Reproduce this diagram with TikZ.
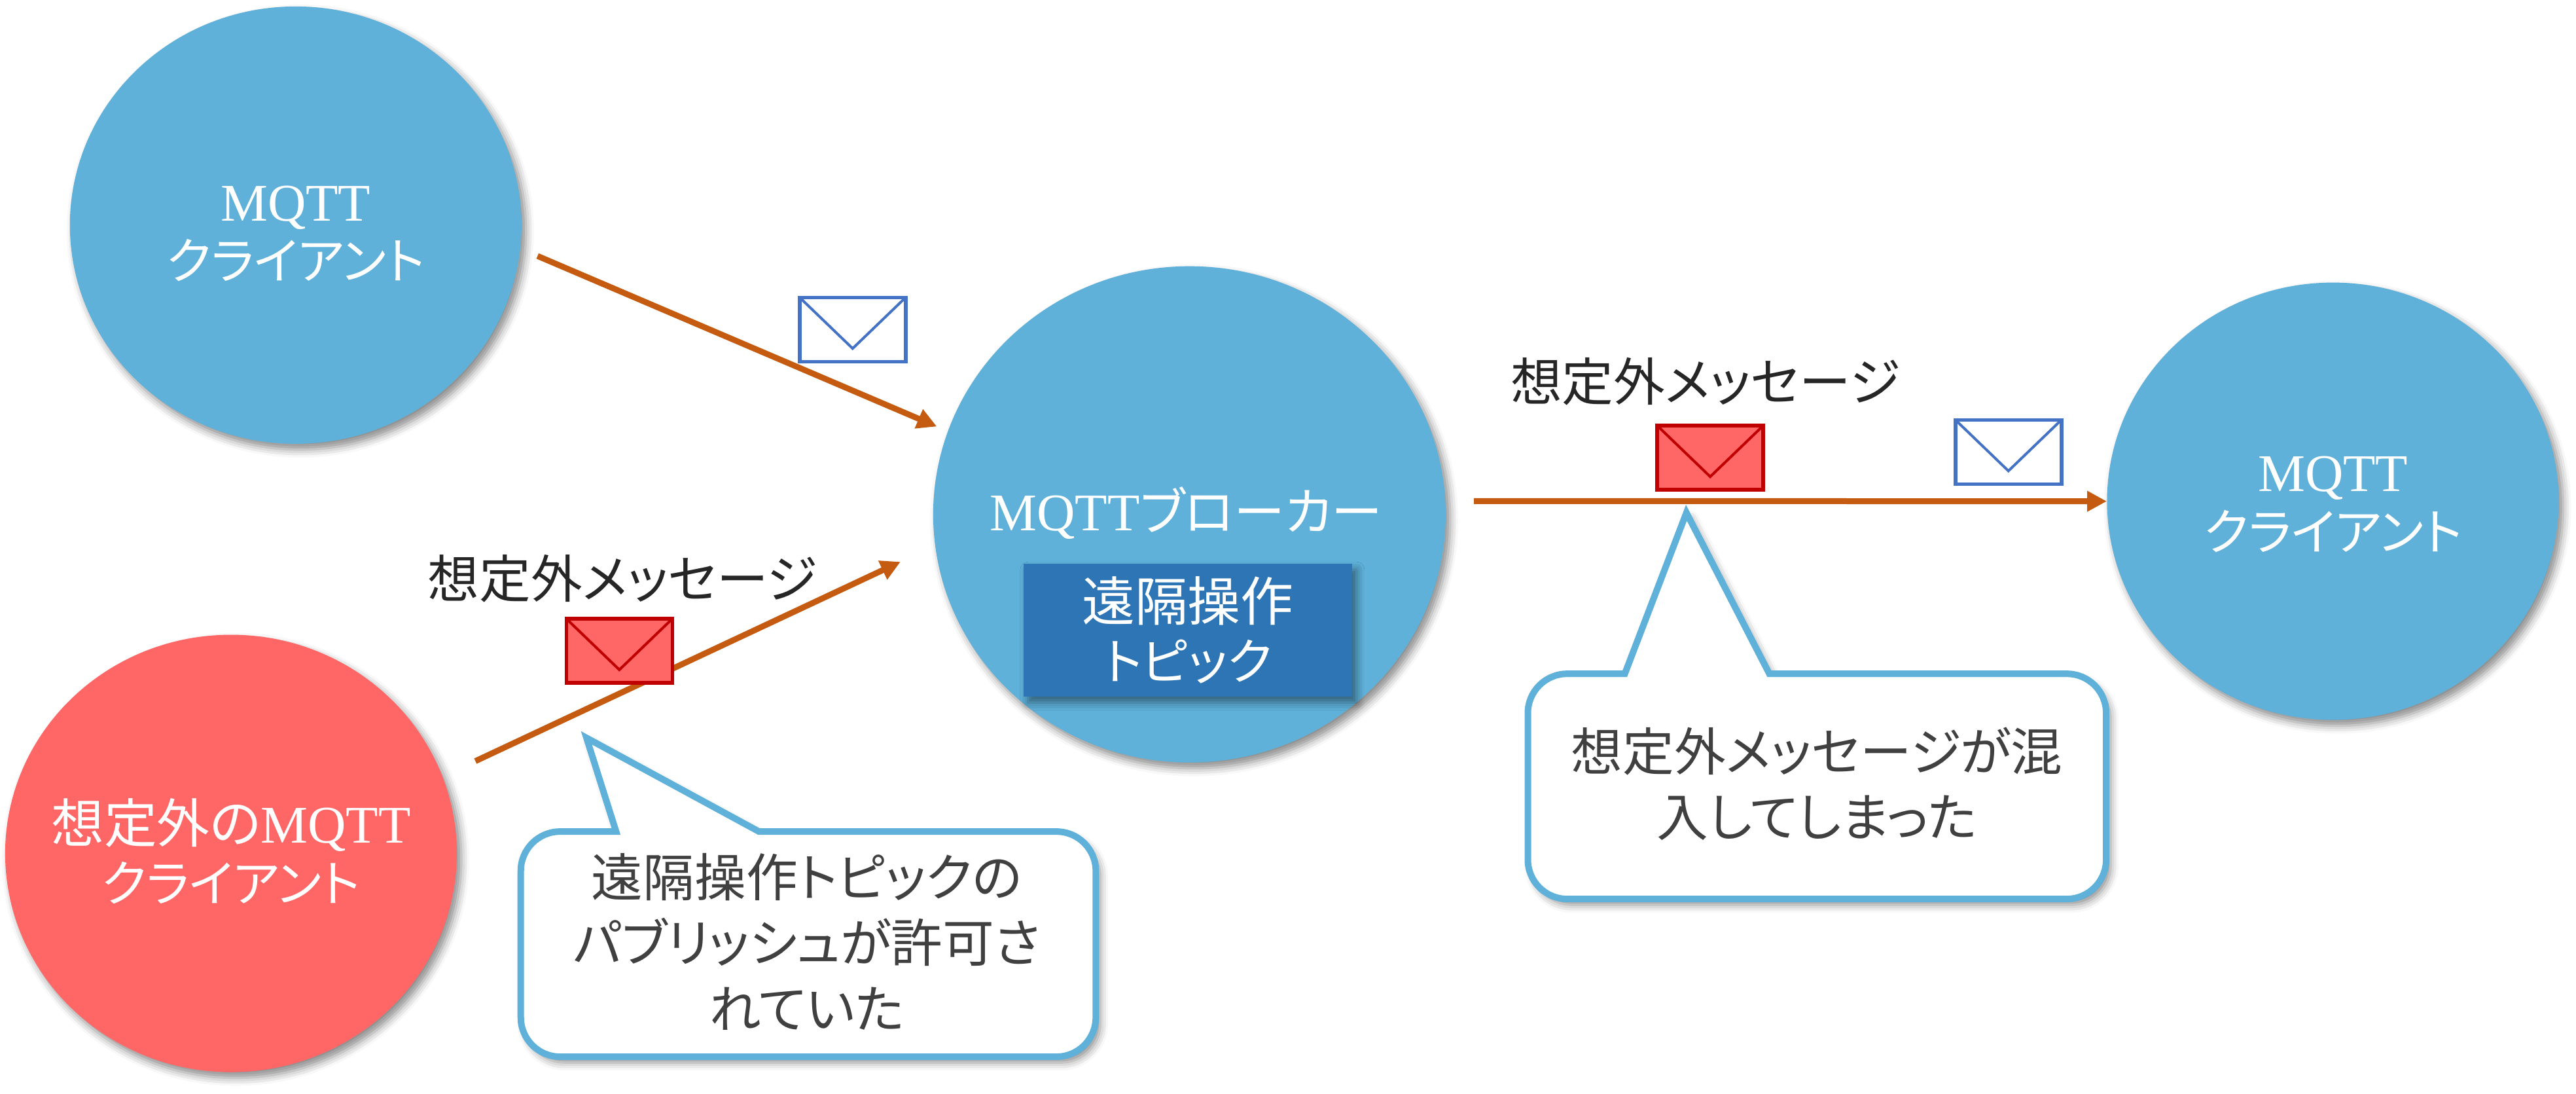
\documentclass[tikz,border=0pt]{standalone}
\usepackage{fontspec}
\usetikzlibrary{arrows.meta,shapes.geometric,shadows.blur}
\setmainfont{Liberation Serif}
\newfontfamily\cjk[RawFeature=+palt]{Noto Sans CJK JP}
\newcommand{\kana}[1]{{\cjk\fontsize{21.6}{25.5}\selectfont #1}}
\definecolor{clientblue}{HTML}{5FB1DA}
\definecolor{clientred}{HTML}{FF6666}
\definecolor{topicblue}{HTML}{2E75B6}
\definecolor{arroworange}{HTML}{C55A11}
\definecolor{mailblue}{HTML}{4472C4}
\definecolor{mailred}{HTML}{C00000}
\begin{document}
\begin{tikzpicture}[scale=0.251,
  letter/.style 2 args={rectangle,draw=#1,fill=#2,line width=0.055cm,minimum width=1.62cm,minimum height=0.98cm,
    path picture={\draw[#1,line width=0.04cm] (path picture bounding box.north west) -- ([yshift=0.2cm]path picture bounding box.south) -- (path picture bounding box.north east);}}]
\tikzstyle{every node}+=[inner sep=0pt]
\tikzstyle{softshadow}=[blur shadow={shadow xshift=0.07cm,shadow yshift=-0.09cm,shadow blur radius=0.12cm,shadow opacity=45}]
\tikzstyle{client}=[ellipse,fill=clientblue,minimum width=6.9cm,minimum height=6.68cm,softshadow]
\tikzstyle{whitetext}=[text=white,align=center,font=\fontsize{23}{25.5}\selectfont]
\tikzstyle{blacktext}=[text=black!85,align=center,font=\cjk\fontsize{22.4}{28.5}\selectfont]
\tikzstyle{flow}=[draw=arroworange,line width=0.09cm,-{Triangle[length=0.3cm,width=0.3cm]}]
\tikzstyle{callout}=[draw=clientblue,fill=white,line width=0.1cm,line join=miter,softshadow]
\useasboundingbox (0,0) rectangle (156.8,-66.53);
\node [client] (clienta) at (18,-13.7) {};
\node [client,fill=clientred] (clientb) at (14.06,-51.93) {};
\node [client,minimum width=7.83cm,minimum height=7.58cm] (broker) at (72.4,-31.3) {};
\node [client] (clientc) at (142,-30.5) {};
\node [whitetext] (clientatext) at ([yshift=-0.52cm]clienta) {MQTT\\\kana{クライアント}};
\node [whitetext] (clientbtext) at ([yshift=0.15cm]clientb) {{\cjk 想定外の}MQTT\\\kana{クライアント}};
\node [whitetext] (clientctext) at ([yshift=-0.2cm]clientc) {MQTT\\\kana{クライアント}};
\node [whitetext] (brokertext) at (72.2,-31.2) {MQTT{\cjk\fontsize{22.2}{25.5}\selectfont ブローカー}};
\node [rectangle,fill=topicblue,minimum width=5.02cm,minimum height=2.03cm,softshadow,whitetext] (topic) at (72.3,-38.35) {\cjk 遠隔操作\\\kana{トピック}};
\draw [flow,shorten <=0.28cm,shorten >=0.18cm] (clienta.-6.2) -- (broker.161.6);
\draw [flow,shorten <=0.55cm,shorten >=0.58cm] (clientb.20.9) -- (broker.187.4);
\draw [flow,shorten <=0.43cm] (broker.3.3) -- (clientc.west);
\node [letter={mailblue}{white}] (mailb) at (51.9,-20.05) {};
\node [letter={mailred}{clientred}] (mailr) at (37.7,-39.6) {};
\node [letter={mailred}{clientred}] (mails) at (104.1,-27.85) {};
\node [letter={mailblue}{white}] (mailc) at (122.25,-27.5) {};
\node [blacktext] (labelleft) at (37.9,-35.2) {想定外メッセージ};
\node [blacktext] (labelright) at (103.8,-23.2) {想定外メッセージ};
\draw [callout] (35.7,-44.9) -- (46.2,-50.6) [rounded corners=0.6cm] -- (66.7,-50.6) -- (66.7,-64.3) -- (31.7,-64.3) -- (31.7,-50.6) [sharp corners] -- (37.5,-50.6) -- cycle;
\node [blacktext,text=black!75] (calloutleft) at (49.1,-57.3) {遠隔操作トピックの\\パブリッシュが許可さ\\れていた};
\draw [callout] (102.65,-31.2) -- (107.7,-41) [rounded corners=0.6cm] -- (128.2,-41) -- (128.2,-54.7) -- (93,-54.7) -- (93,-41) [sharp corners] -- (98.9,-41) -- cycle;
\node [blacktext,text=black!75] (calloutright) at (110.6,-47.7) {想定外メッセージが混\\入してしまった};
\end{tikzpicture}
\end{document}
